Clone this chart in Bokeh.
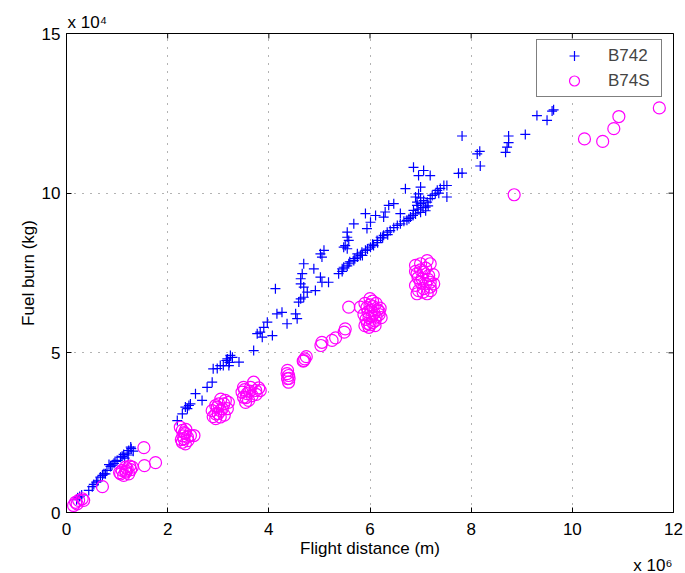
import math
from bokeh.plotting import figure
from bokeh.models import Range1d, FixedTicker, Legend, LegendItem, Title
from bokeh.embed import file_html
from bokeh.resources import INLINE

# Flight distance in units of 1e6 m, fuel burn in units of 1e4 kg
b742_dist = [0.20, 0.22, 0.26, 0.30, 0.44, 0.51, 0.54, 0.59, 0.62, 0.67, 0.71, 0.74, 0.77, 0.80, 0.84,
             0.87, 0.90, 0.94, 0.96, 1.00, 1.07, 1.10, 1.13, 1.15, 1.20, 1.22, 1.23, 1.27, 1.28, 1.32,
             2.19, 2.29, 2.35, 2.39, 2.42, 2.45, 2.55, 2.68, 2.78, 2.88, 2.90, 2.98, 3.04, 3.10, 3.16,
             3.18, 3.21, 3.22, 3.24, 3.28, 3.41, 3.70, 3.77, 3.83, 3.87, 3.90, 3.97, 4.07, 4.13, 4.16,
             4.26, 4.36, 4.53, 4.56, 4.59, 4.63, 4.63, 4.63, 4.69, 4.69, 4.76, 4.92, 5.02, 5.05, 5.18,
             4.66, 4.69, 4.89, 5.02, 5.09, 5.05, 5.48, 5.51, 5.55, 5.58, 5.55, 5.55, 5.68, 5.91, 5.94,
             6.01, 6.11, 6.27, 6.30, 6.37, 6.47, 6.60, 6.77,
             5.38, 5.45, 5.45, 5.48, 5.55, 5.58, 5.60, 5.68, 5.70, 5.75, 5.75, 5.81, 5.84, 5.85, 5.91,
             5.95, 6.01, 6.05, 6.07, 6.14, 6.15, 6.21, 6.25, 6.27, 6.34, 6.35, 6.40, 6.47, 6.54, 6.60,
             6.67, 6.73, 6.80, 6.85, 6.86, 6.90, 6.93, 6.93, 6.95, 7.00, 7.00, 7.00, 7.05, 7.06, 7.10,
             7.10, 7.13, 7.15, 7.19, 7.23, 7.29, 7.36,
             6.86, 7.06, 7.19, 6.96, 7.00, 6.70, 7.52, 7.52, 7.75, 6.96, 6.90, 7.46, 7.33, 7.39, 7.82,
             7.82, 8.12, 8.17, 8.18, 8.68, 8.71, 8.74, 8.74, 9.07, 9.30, 9.50, 9.60, 9.63]
b742_fuel = [0.40, 0.46, 0.50, 0.55, 0.69, 0.81, 0.88, 0.95, 0.99, 1.11, 1.16, 1.21, 1.21, 1.32, 1.50,
             1.44, 1.48, 1.54, 1.60, 1.63, 1.73, 1.76, 1.82, 1.70, 1.86, 1.80, 1.94, 2.05, 2.00, 1.92,
             2.88, 3.09, 3.30, 3.25, 3.35, 3.40, 3.72, 3.51, 3.92, 4.08, 4.50, 4.51, 4.60, 4.60, 4.76,
             4.81, 4.60, 4.70, 4.92, 4.86, 4.71, 5.07, 5.60, 5.65, 5.49, 5.80, 5.96, 5.54, 7.01, 6.22,
             6.27, 5.91, 6.22, 6.07, 6.59, 6.69, 7.16, 7.32, 7.06, 6.74, 6.90, 6.95, 7.37, 7.21, 7.21,
             7.48, 7.79, 7.63, 8.10, 8.21, 8.00, 8.31, 8.36, 8.26, 8.52, 8.62, 8.78, 9.04, 9.36, 8.89,
             9.09, 9.30, 9.25, 9.41, 9.62, 9.67, 9.36, 9.20,
             7.48, 7.63, 7.55, 7.68, 7.72, 7.79, 7.85, 7.89, 7.95, 8.00, 8.10, 8.05, 8.15, 8.05, 8.21,
             8.25, 8.31, 8.40, 8.36, 8.52, 8.45, 8.62, 8.60, 8.68, 8.78, 8.70, 8.83, 8.92, 8.99, 9.04,
             9.12, 9.15, 9.25, 9.30, 9.46, 9.35, 9.62, 9.72, 9.50, 9.67, 9.40, 9.85, 9.55, 9.77, 9.45,
             9.56, 9.72, 9.60, 9.83, 9.93, 9.98, 10.00,
             10.81, 10.71, 10.55, 10.55, 10.19, 10.14, 10.24, 9.88, 10.62, 9.98, 9.88, 10.24, 10.09, 10.15, 10.63,
             11.79, 11.23, 11.31, 10.85, 11.28, 11.44, 11.58, 11.79, 11.84, 12.43, 12.28, 12.57, 12.61]

b74s_dist = [0.14, 0.18, 0.21, 0.24, 0.31, 0.34, 0.71, 1.07, 1.10, 1.13, 1.17, 1.17, 1.20, 1.23, 1.25,
             1.27, 1.30, 1.18, 1.05, 1.53, 1.54, 1.76,
             2.25, 2.29, 2.29, 2.27, 2.30, 2.32, 2.33, 2.35, 2.35, 2.36, 2.39, 2.40, 2.45, 2.52,
             2.88, 2.90, 2.95, 2.95, 2.95, 2.98, 3.00, 3.01, 3.04, 3.04, 3.05, 3.08, 3.11, 3.12, 3.14,
             3.18, 3.20,
             3.47, 3.50, 3.50, 3.52, 3.54, 3.55, 3.57, 3.60, 3.62, 3.64, 3.67, 3.70, 3.74, 3.75, 3.80, 3.83,
             4.36, 4.37, 4.37, 4.39, 4.39, 4.40, 4.68, 4.69, 4.71, 4.74,
             5.03, 5.05, 5.25, 5.32, 5.49, 5.51, 5.58, 5.81,
             5.88, 5.90, 5.90, 5.92, 5.94, 5.95, 5.96, 5.98, 5.98, 6.00, 6.00, 6.00, 6.02, 6.04, 6.05,
             6.05, 6.06, 6.08, 6.10, 6.10, 6.12, 6.12, 6.15, 6.18, 6.18, 6.20, 6.22,
             6.90, 7.00, 7.13, 7.19, 6.93, 7.06, 7.16, 7.00, 7.10, 7.19, 7.26, 6.90, 6.96, 7.06, 7.13,
             6.93, 7.19, 7.03, 7.00, 7.10, 6.95, 7.15, 7.05, 7.20, 6.90, 7.25,
             8.85, 10.24, 10.60, 10.82, 10.92, 11.72]
b74s_fuel = [0.22, 0.32, 0.27, 0.38, 0.43, 0.38, 0.81, 1.21, 1.32, 1.16, 1.26, 1.42, 1.37, 1.21, 1.45,
             1.34, 1.42, 1.30, 1.25, 2.03, 1.47, 1.56,
             2.67, 2.57, 2.20, 2.28, 2.40, 2.31, 2.50, 2.47, 2.15, 2.60, 2.36, 2.25, 2.41, 2.41,
             3.19, 3.00, 3.09, 2.94, 3.35, 3.30, 3.10, 3.40, 3.19, 2.99, 3.55, 3.25, 3.40, 3.05, 3.51,
             3.25, 3.45,
             3.77, 3.92, 3.61, 3.85, 3.45, 3.60, 3.72, 3.51, 3.80, 3.92, 3.66, 4.08, 3.82, 3.70, 3.90, 3.82,
             4.35, 4.45, 4.19, 4.29, 4.08, 4.20, 4.74, 4.76, 4.81, 4.88,
             5.23, 5.33, 5.39, 5.47, 5.65, 5.75, 6.43, 6.43,
             6.20, 5.85, 6.55, 6.05, 6.42, 5.92, 6.28, 5.80, 6.10, 5.88, 6.50, 6.70, 6.32, 6.15, 5.95,
             6.62, 6.45, 6.25, 5.85, 6.00, 6.12, 6.55, 6.35, 6.20, 6.30, 6.40, 6.10,
             7.74, 7.79, 7.89, 7.79, 7.48, 7.53, 7.42, 7.21, 7.16, 7.21, 7.16, 7.11, 6.95, 7.01, 6.85,
             6.85, 7.06, 7.32, 7.60, 7.65, 7.35, 7.30, 6.90, 6.95, 7.55, 7.45,
             9.95, 11.70, 11.62, 12.02, 12.40, 12.67]

series_names = ["B742", "B74S"]
x_ticks = [0, 2, 4, 6, 8, 10, 12]
y_ticks = [0, 5, 10, 15]
x_exponent = "x 10\u2076"
y_exponent = "x 10\u2074"

FONT = "Liberation Sans"
FS = "17px"

p = figure(width=685, height=573, output_backend="svg", toolbar_location=None,
           x_range=Range1d(x_ticks[0], x_ticks[-1]), y_range=Range1d(y_ticks[0], y_ticks[-1]),
           min_border_left=66, min_border_right=12, min_border_top=33, min_border_bottom=61,
           x_axis_label="Flight distance (m)", y_axis_label="Fuel burn (kg)")
p.background_fill_color = "white"
p.border_fill_color = "white"
p.outline_line_color = "black"
p.outline_line_width = 1

for ax, ticks in ((p.xaxis[0], x_ticks), (p.yaxis[0], y_ticks)):
    ax.ticker = FixedTicker(ticks=ticks)
    ax.major_tick_in = 5
    ax.major_tick_out = 0
    ax.minor_tick_in = 0
    ax.minor_tick_out = 0
    ax.axis_line_color = "black"
    ax.major_tick_line_color = "black"
    ax.major_label_text_font = FONT
    ax.major_label_text_font_size = FS
    ax.major_label_text_color = "black"
    ax.axis_label_text_font = FONT
    ax.axis_label_text_font_size = FS
    ax.axis_label_text_font_style = "normal"
    ax.axis_label_text_color = "black"

p.xaxis[0].major_label_standoff = 10
p.xaxis[0].axis_label_standoff = 1
p.yaxis[0].major_label_standoff = 6
p.yaxis[0].axis_label_standoff = 1

p.xgrid[0].ticker = FixedTicker(ticks=x_ticks)
p.ygrid[0].ticker = FixedTicker(ticks=y_ticks)
for g in (p.xgrid[0], p.ygrid[0]):
    g.grid_line_color = "black"
    g.grid_line_alpha = 0.6
    g.grid_line_dash = "1 7"
    g.grid_line_width = 1

# inward tick marks on the top and right edges of the box (clipped to the frame)
p.scatter(x_ticks, [y_ticks[-1]] * len(x_ticks), marker="dash", angle=math.pi / 2, size=10,
          line_color="black", line_width=1)
p.scatter([x_ticks[-1]] * len(y_ticks), y_ticks, marker="dash", size=10,
          line_color="black", line_width=1)

r1 = p.scatter(b742_dist, b742_fuel, marker="cross", size=10, line_color="#0000ff",
               line_width=1.2)
r2 = p.scatter(b74s_dist, b74s_fuel, marker="circle", size=12, line_color="#ff00ff",
               fill_color=None, line_width=1.2)

legend = Legend(items=[LegendItem(label=series_names[0], renderers=[r1]),
                       LegendItem(label=series_names[1], renderers=[r2])],
                location=(470, 415), padding=3, spacing=0, margin=0,
                glyph_width=68, glyph_height=25, label_height=22, label_width=50,
                label_standoff=0, border_line_color="black", border_line_width=1,
                background_fill_color="white", background_fill_alpha=1,
                label_text_font=FONT, label_text_font_size=FS)
p.add_layout(legend, "center")

p.add_layout(Title(text=y_exponent, align="left", offset=1, standoff=4,
                   text_font=FONT, text_font_size=FS, text_font_style="normal",
                   text_color="black"), "above")

p.add_layout(Title(text=x_exponent, align="right", offset=1, standoff=-14,
                   vertical_align="bottom",
                   text_font=FONT, text_font_size=FS, text_font_style="normal",
                   text_color="black"), "below")

open("out.html", "w").write(file_html(p, INLINE))
